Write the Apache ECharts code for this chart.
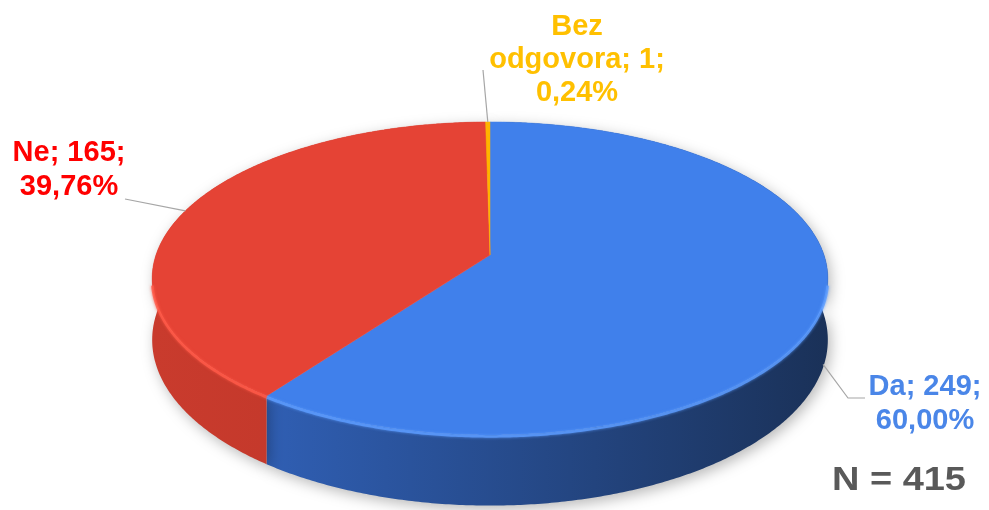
<!DOCTYPE html>
<html>
<head>
<meta charset="utf-8">
<script src="https://cdn.jsdelivr.net/npm/echarts@6/dist/echarts.min.js"></script>
<style>
html,body{margin:0;padding:0;background:#fff;}
#chart{width:989px;height:510px;}
</style>
</head>
<body>
<div id="chart"></div>
<script>
// ---- data ----
const categories = ['Da', 'Ne', 'Bez odgovora'];
const values = [249, 165, 1];
const totalLabel = 'N = 415';

// ---- styles ----
const topColors = ['#4080eb', '#e54335', '#ffb300'];
const rimColors = ['#5d9cff', '#ff5a48', '#ffd040'];
const sideStops = [
  [[0, '#3468c6'], [1, '#1a3158']],
  [[0, '#c93b2d'], [1, '#b02f24']],
  [[0, '#d99a00'], [1, '#c08800']]
];
const labelColors = ['#4a86e8', '#ff0000', '#ffc000'];

// ---- layout (pixels) ----
const L = { cx: 490, cy: 255, R: 334, S: 153, k: 0.15, H: 60 };
const labelLayout = [
  { text: [925, 404], lh: 34, leaderDepth: 0.95, leader: [[848, 398], [865, 398]] },
  { text: [69, 170], lh: 34, leaderDepth: 0, leader: [[125, 199]] },
  { text: [577, 60], lh: 33, leaderDepth: 0, leader: [[483, 70]] }
];
const FONT = 'bold 29px "Liberation Sans", Arial, sans-serif';

function proj(theta, depth) {
  const X = Math.sin(theta), Y = Math.cos(theta);
  const w = 1 + L.k * Y;
  return [L.cx + L.R * X / w, L.cy - L.S * Y / w + L.H * depth / w];
}
function arc(a0, a1, depth) {
  const n = Math.max(2, Math.ceil(Math.abs(a1 - a0) / (Math.PI / 360)));
  const pts = [];
  for (let s = 0; s <= n; s++) pts.push(proj(a0 + (a1 - a0) * s / n, depth));
  return pts;
}
function fmtPct(v, t) { return (v / t * 100).toFixed(2).replace('.', ',') + '%'; }

const chart = echarts.init(document.getElementById('chart'), null, { renderer: 'canvas' });
const total = values.reduce((a, b) => a + b, 0);

chart.setOption({
  animation: false,
  backgroundColor: '#ffffff',
  series: [{
    type: 'custom',
    coordinateSystem: 'none',
    data: values.map((v, i) => ({ name: categories[i], value: v })),
    renderItem: function (params, api) {
      const i = params.dataIndex;
      const v = api.value(0);
      let start = 0;
      for (let j = 0; j < i; j++) start += values[j];
      const a0 = start / total * Math.PI * 2;
      const a1 = (start + v) / total * Math.PI * 2;
      const topArc = arc(a0, a1, 0);
      const botArc = arc(a1, a0, 1);
      const children = [];
      children.push({
        type: 'polygon', z2: 1,
        shape: { points: topArc.concat(botArc) },
        style: {
          fill: new echarts.graphic.LinearGradient(152, 0, 828, 0,
            sideStops[i].map(s => ({ offset: s[0], color: s[1] })), true),
          shadowBlur: 14, shadowColor: 'rgba(0,0,0,0.28)', shadowOffsetX: 3, shadowOffsetY: 4
        }
      });
      children.push({
        type: 'polygon', z2: 5,
        shape: { points: [[L.cx, L.cy]].concat(topArc) },
        style: { fill: topColors[i], stroke: topColors[i], lineWidth: 0.5 }
      });
      const r0 = Math.max(a0, Math.PI * 0.56), r1 = Math.min(a1, Math.PI * 1.44);
      if (r1 > r0) {
        children.push({
          type: 'polyline', z2: 6,
          shape: { points: arc(r0, r1, 0.02) },
          style: { stroke: rimColors[i], lineWidth: 2.5, opacity: 0.8, fill: null,
                   shadowBlur: 3, shadowColor: rimColors[i] }
        });
      }
      const lay = labelLayout[i];
      const mid = (a0 + a1) / 2;
      const startPt = proj(mid, lay.leaderDepth);
      children.push({
        type: 'polyline', z2: 7,
        shape: { points: [startPt].concat(lay.leader) },
        style: { stroke: '#a6a6a6', lineWidth: 1.2, fill: null }
      });
      let txt = categories[i] + '; ' + v + ';\n' + fmtPct(v, total);
      if (i === 2) txt = 'Bez\nodgovora; ' + v + ';\n' + fmtPct(v, total);
      children.push({
        type: 'text', z2: 8,
        x: lay.text[0], y: lay.text[1],
        style: {
          text: txt,
          font: FONT, fill: labelColors[i],
          align: 'center', verticalAlign: 'middle', lineHeight: lay.lh
        }
      });
      return { type: 'group', children: children };
    }
  }],
  graphic: [{
    type: 'text', x: 832, y: 464, scaleX: 1.15,
    style: { text: totalLabel, font: 'bold 33px "Liberation Sans", Arial, sans-serif', fill: '#595959' }
  }]
});
</script>
</body>
</html>
